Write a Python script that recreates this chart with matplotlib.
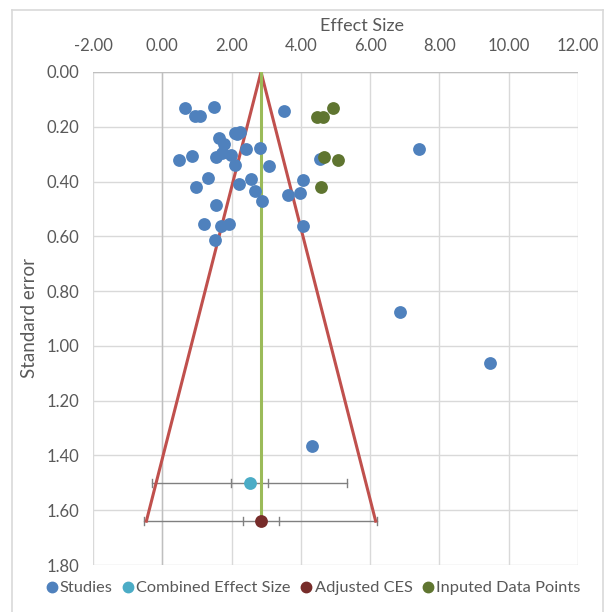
import matplotlib
matplotlib.use("Agg")
import matplotlib.pyplot as plt
from matplotlib.lines import Line2D

plt.rcParams['font.family'] = ['Lato', 'DejaVu Sans']

# Data
studies_es = [0.65, 0.94, 1.10, 1.49, 3.51, 2.09, 2.23, 2.15, 1.63, 1.77, 1.73, 1.56, 1.99,
              2.09, 2.42, 2.81, 3.08, 0.47, 0.87, 4.55, 1.32, 0.96, 2.22, 2.55, 2.68, 2.89,
              4.05, 3.62, 3.98, 1.55, 1.19, 1.70, 1.92, 4.07, 1.52, 7.41, 6.86, 9.45, 4.33]
studies_se = [0.133, 0.161, 0.161, 0.127, 0.143, 0.224, 0.218, 0.228, 0.240, 0.262, 0.294,
              0.309, 0.303, 0.339, 0.282, 0.278, 0.344, 0.323, 0.308, 0.318, 0.388, 0.421,
              0.408, 0.389, 0.433, 0.470, 0.395, 0.449, 0.440, 0.485, 0.555, 0.562, 0.555,
              0.562, 0.614, 0.281, 0.876, 1.062, 1.365]
imputed_es = [4.46, 4.64, 4.92, 4.68, 5.07, 4.59]
imputed_se = [0.163, 0.163, 0.133, 0.309, 0.322, 0.421]
ces_es, ces_se = 2.52, 1.50
ces_inner = [1.97, 3.06]
ces_outer = [-0.29, 5.34]
adj_es, adj_se = 2.85, 1.64
adj_inner = [2.33, 3.36]
adj_outer = [-0.53, 6.21]
funnel_x = [-0.46, 2.85, 6.16]
funnel_y = [1.64, 0.0, 1.64]
center_x = [2.85, 2.85]
center_y = [0.0, 1.64]
xticks = [-2, 0, 2, 4, 6, 8, 10, 12]
yticks = [0.0, 0.2, 0.4, 0.6, 0.8, 1.0, 1.2, 1.4, 1.6, 1.8]

C_STUD = '#4F81BD'
C_CES = '#4BACC6'
C_ADJ = '#772C2A'
C_IMP = '#5F7530'
C_RED = '#C0504D'
C_GRN = '#9BBB59'
C_TXT = '#595959'
C_GRID = '#D9D9D9'

fig = plt.figure(figsize=(6.10, 6.12), dpi=100)
ax = fig.add_axes([93/610, 1-565/612, 485/610, 493/612])

# chart border
fig.add_artist(Line2D([12/610, 12/610], [0, 1-10/612], color=C_GRID, lw=1.2))
fig.add_artist(Line2D([12/610, 603/610], [1-10/612, 1-10/612], color=C_GRID, lw=1.2))
fig.add_artist(Line2D([603/610, 603/610], [0, 1-10/612], color=C_GRID, lw=1.2))

ax.set_xlim(-2, 12)
ax.set_ylim(1.8, 0.0)
ax.set_xticks(xticks)
ax.set_yticks(yticks)
ax.set_xticklabels([f"{v:.2f}" for v in xticks])
ax.set_yticklabels([f"{v:.2f}" for v in yticks])
ax.xaxis.tick_top()
ax.xaxis.set_label_position('top')
ax.tick_params(axis='both', length=0, labelsize=12, colors=C_TXT)
ax.tick_params(axis='x', pad=13)
ax.tick_params(axis='y', pad=10)
ax.grid(True, color=C_GRID, lw=1.0)
ax.set_axisbelow(True)
for s in ax.spines.values():
    s.set_visible(False)
ax.axvline(0, color='#BFBFBF', lw=1.0, zorder=1)
ax.axhline(0, color='#BFBFBF', lw=1.0, zorder=1)

ax.set_xlabel('Effect Size', fontsize=13, color=C_TXT)
ax.xaxis.set_label_coords(0.555, 1.0 + 46/493, transform=ax.transAxes)
ax.xaxis.label.set_va('center')
ax.set_ylabel('Standard error', fontsize=13.5, color=C_TXT, labelpad=6)

# funnel lines
ax.plot(funnel_x, funnel_y, color=C_RED, lw=2.2, zorder=3)
ax.plot(center_x, center_y, color=C_GRN, lw=2.2, zorder=3)

# error bars
for y, inner, outer in ((ces_se, ces_inner, ces_outer), (adj_se, adj_inner, adj_outer)):
    ax.plot([outer[0], outer[1]], [y, y], color='#808080', lw=1.0, zorder=2)
    for xv in outer + inner:
        ax.plot([xv, xv], [y - 0.014, y + 0.014], color='#808080', lw=1.0, zorder=2)

ax.scatter(studies_es, studies_se, s=85, color=C_STUD, zorder=4, linewidths=0)
ax.scatter([ces_es], [ces_se], s=85, color=C_CES, zorder=4, linewidths=0)
ax.scatter([adj_es], [adj_se], s=85, color=C_ADJ, zorder=5, linewidths=0)
ax.scatter(imputed_es, imputed_se, s=85, color=C_IMP, zorder=4, linewidths=0)

handles = [Line2D([], [], marker='o', ls='', color=c, markersize=7.5)
           for c in (C_STUD, C_CES, C_ADJ, C_IMP)]
labels = ['Studies', 'Combined Effect Size', 'Adjusted CES', 'Inputed Data Points']
fig.legend(handles, labels, loc='center', bbox_to_anchor=(312/610, 1-588/612), ncol=4,
           frameon=False, fontsize=11.8, handletextpad=0.0, columnspacing=0.45,
           labelcolor=C_TXT, handlelength=1.0)

fig.savefig('out.png', dpi=100)
